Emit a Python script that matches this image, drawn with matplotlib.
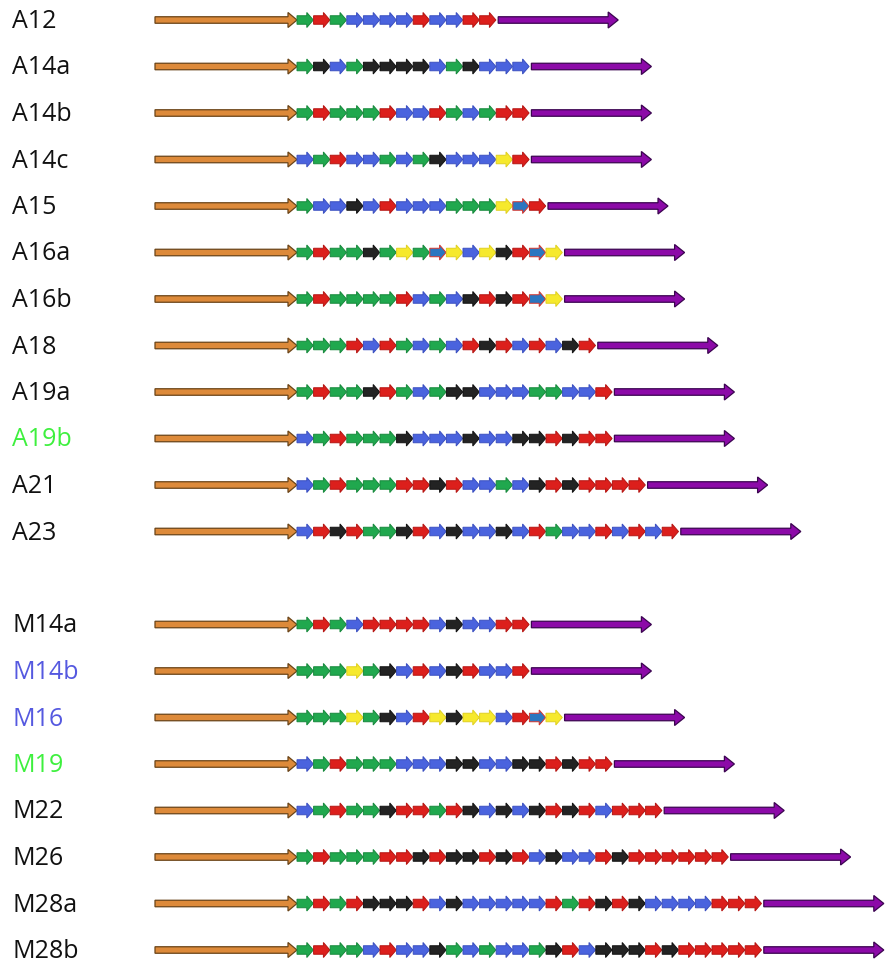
import matplotlib
matplotlib.use("Agg")
import matplotlib.pyplot as plt
from matplotlib.patches import FancyArrow

# ---- data ----
labels = ["A12", "A14a", "A14b", "A14c", "A15", "A16a", "A16b", "A18", "A19a", "A19b",
          "A21", "A23", "M14a", "M14b", "M16", "M19", "M22", "M26", "M28a", "M28b"]
label_colors = ["k", "k", "k", "k", "k", "k", "k", "k", "k", "g",
                "k", "k", "k", "b", "b", "g", "k", "k", "k", "k"]
row_slots = [0, 1, 2, 3, 4, 5, 6, 7, 8, 9, 10, 11, 13, 14, 15, 16, 17, 18, 19, 20]
sequences = [
    "GRGBBBBRBBRR",
    "GKBGKKKKBGKBBB",
    "GRGGGRBBRGBGRR",
    "BGRBBGBGKBBBYR",
    "GBBKBRBBBGGGYTR",
    "GRGGKGYGTYBYKRTY",
    "GRGGGGRBGBKRKRTY",
    "GGGRBRGBGBRKRBRBKR",
    "GRGGKRGBGKKBBBGGBBR",
    "BGRGGGKBBBKBBKKRKRR",
    "BGRGGGRRKRBBGBKRKRRRR",
    "BRKRGGKRBKBBKBRGBBRBRBR",
    "GRGBRRRRBKBBRR",
    "GGGYGKBRBKRBBR",
    "GGGYGKBRYKYYBRTY",
    "BGRGGGBBBKKBBKKRKRR",
    "BGRGGKRRGRKBKBKRKRBRRR",
    "GRGGGRRKRKKRKRBKBBRKRRRRRR",
    "GRGRKKKRBKBBBBBRGRKRKBBBBRRR",
    "GRGGBRBBKGBGBBGKRBKKKRKRRRRR",
]

# ---- styles ----
palette = {
    "G": ("#20a84e", "#17893c"),
    "R": ("#dc1f1c", "#b51512"),
    "B": ("#4a63de", "#3a4fc0"),
    "K": ("#232323", "#111111"),
    "Y": ("#f6e92c", "#e0d020"),
    "T": ("#2b76c0", "#d8342a"),
}
text_colors = {"k": "#111111", "g": "#3ef03e", "b": "#5559e0"}

W, H = 888, 968
y0, step = 20, 46.5
x_orange, orange_len = 155, 142
unit = 16.6
purple_gap, purple_len = 2, 120

fig = plt.figure(figsize=(W / 100, H / 100), dpi=100)
ax = fig.add_axes([0, 0, 1, 1])
ax.set_xlim(0, W)
ax.set_ylim(H, 0)
ax.axis("off")

for lab, lc, slot, seq in zip(labels, label_colors, row_slots, sequences):
    y = y0 + slot * step
    ax.text(12, y + 1.5, lab, fontsize=18, family=["Open Sans", "DejaVu Sans"],
            color=text_colors[lc], va="center", ha="left")
    # orange arrow
    ax.add_patch(FancyArrow(x_orange, y, orange_len, 0, width=6.5, head_width=15,
                            head_length=9, length_includes_head=True,
                            fc="#dd8a3a", ec="#6a4418", lw=0.9))
    xs = x_orange + orange_len
    for k, c in enumerate(seq):
        fc, ec = palette[c]
        ax.add_patch(FancyArrow(xs + k * unit, y, unit - 0.3, 0, width=8.5,
                                head_width=15, head_length=6.5,
                                length_includes_head=True, fc=fc, ec=ec, lw=0.7))
    xp = xs + len(seq) * unit + purple_gap
    ax.add_patch(FancyArrow(xp, y, purple_len, 0, width=6.5, head_width=16,
                            head_length=10, length_includes_head=True,
                            fc="#8c0aa8", ec="#3b0550", lw=0.9))

fig.savefig("out.png", dpi=100, facecolor="white")
